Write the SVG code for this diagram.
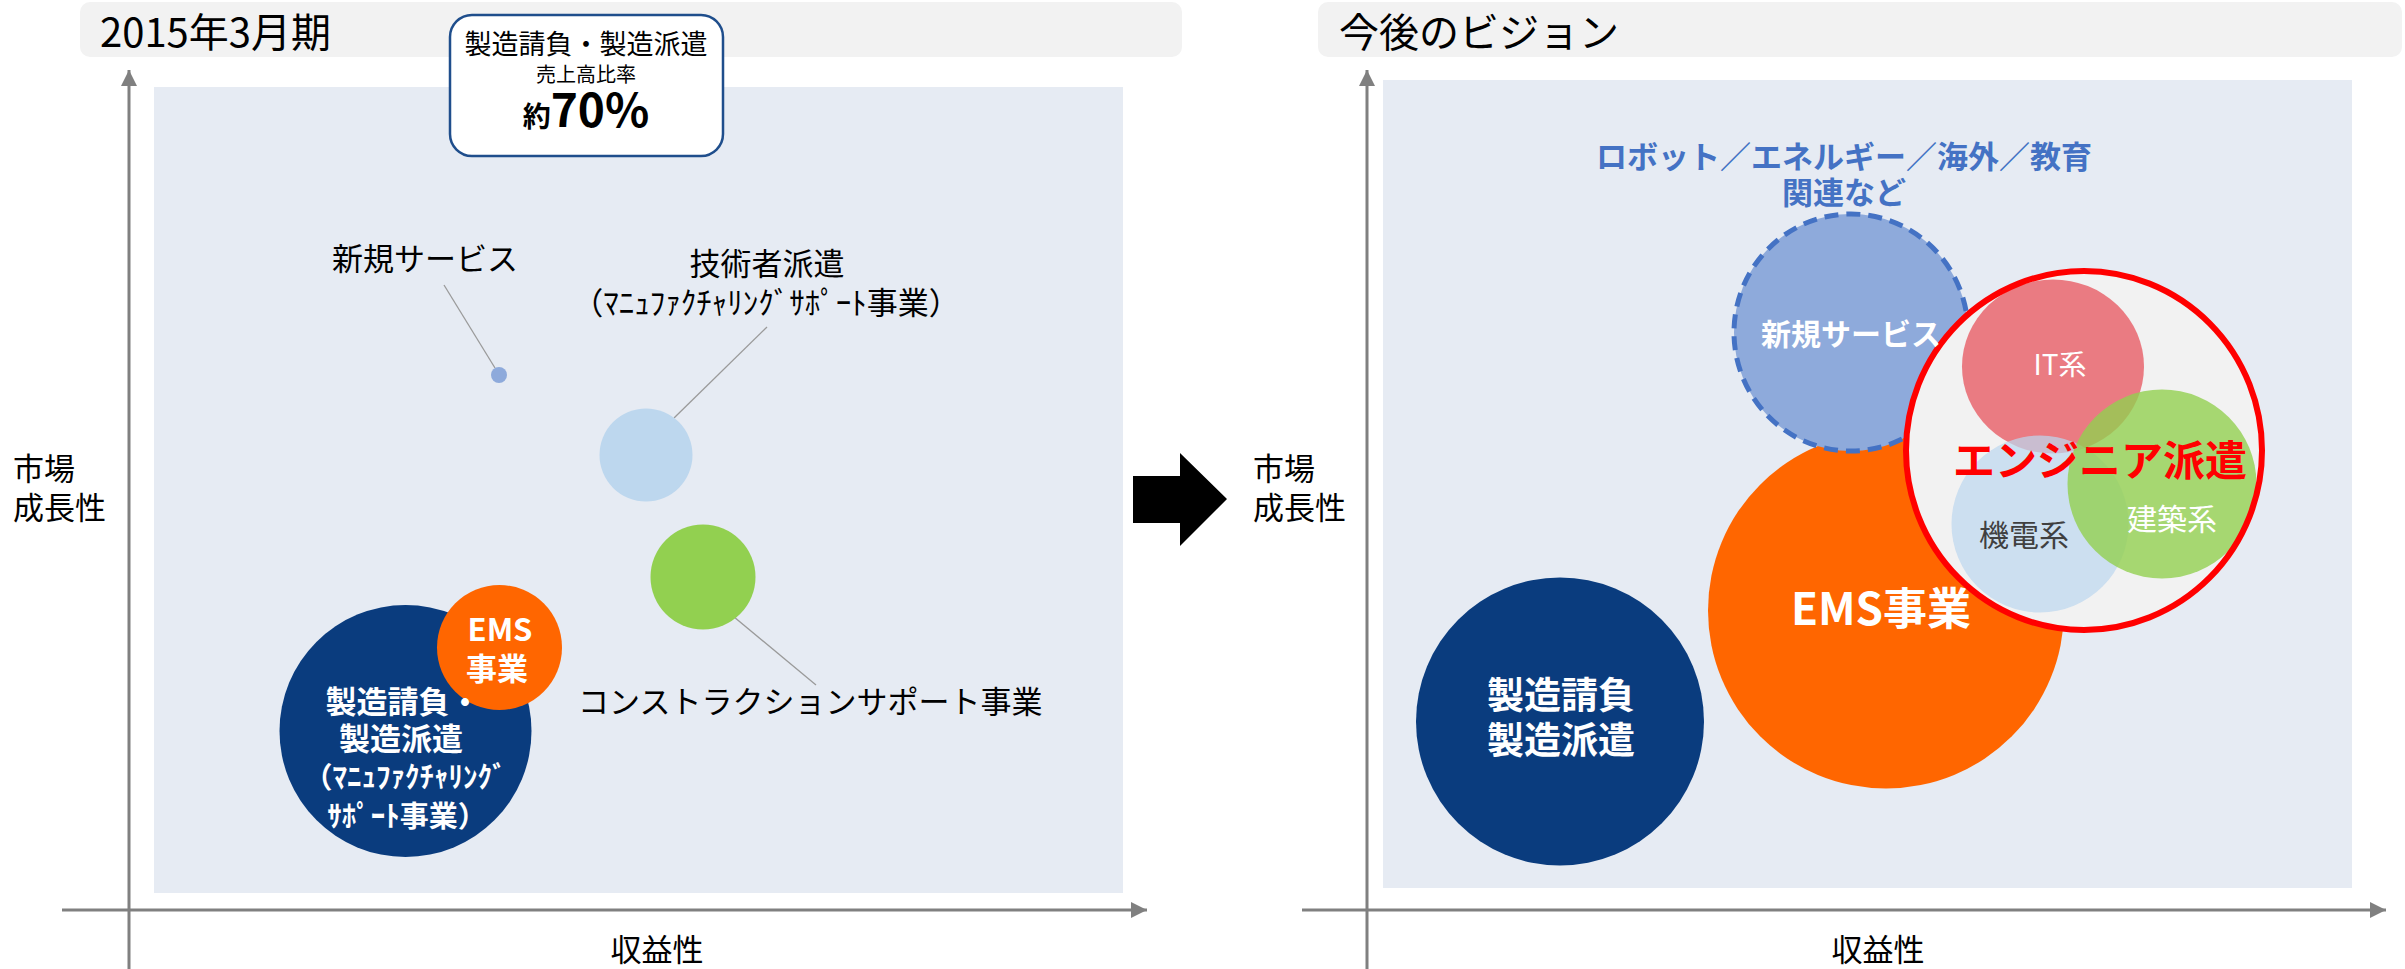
<svg xmlns="http://www.w3.org/2000/svg" width="2405" height="969" viewBox="0 0 2405 969">
<defs>
<marker id="ah" markerUnits="userSpaceOnUse" markerWidth="18" markerHeight="18" refX="16" refY="8" orient="auto">
<path d="M0,0 L16,8 L0,16 Z" fill="#808080"/>
</marker>
<style>
text{font-family:"Noto Sans CJK JP","Noto Sans",sans-serif}
.axis{stroke:#808080;stroke-width:3;fill:none}
.lead{stroke:#9a9a9a;stroke-width:1.3;fill:none}
.hdr{fill:#f2f2f2}
.panel{fill:#e6ebf3}
.lbl{font-size:31px;fill:#000}
.wb{fill:#fff;font-weight:bold}
.c{text-anchor:middle}
</style>
</defs>
<rect width="2405" height="969" fill="#fff"/>
<!-- headers -->
<rect class="hdr" x="80" y="2" width="1102" height="55" rx="10"/>
<text x="100" y="47" font-size="40" fill="#000">2015年3月期</text>
<rect class="hdr" x="1318" y="2" width="1084" height="55" rx="10"/>
<text x="1339" y="47" font-size="40" fill="#000">今後のビジョン</text>
<!-- panels -->
<rect class="panel" x="154" y="87" width="969" height="806"/>
<rect class="panel" x="1383" y="80" width="969" height="808"/>
<!-- connectors / axes -->
<g id="connectors">
<line class="axis" x1="129" y1="969" x2="129" y2="70" marker-end="url(#ah)"/>
<line class="axis" x1="62" y1="910" x2="1147" y2="910" marker-end="url(#ah)"/>
<line class="axis" x1="1367" y1="969" x2="1367" y2="70" marker-end="url(#ah)"/>
<line class="axis" x1="1302" y1="910" x2="2386" y2="910" marker-end="url(#ah)"/>
<line class="lead" x1="444" y1="285" x2="495" y2="368"/>
<line class="lead" x1="767" y1="327" x2="674" y2="418"/>
<line class="lead" x1="704" y1="592" x2="816" y2="685"/>
</g>
<!-- big arrow -->
<g id="transition-arrow">
<path d="M1133,476 H1180 V453 L1227,499 L1180,546 V523 H1133 Z" fill="#000"/>
</g>
<!-- axis labels -->
<g id="axis-labels">
<text class="lbl" x="13" y="480">市場</text>
<text class="lbl" x="13" y="519">成長性</text>
<text class="lbl c" x="657" y="961">収益性</text>
<text class="lbl" x="1253" y="480">市場</text>
<text class="lbl" x="1253" y="519">成長性</text>
<text class="lbl c" x="1878" y="961">収益性</text>
</g>
<!-- left chart -->
<g id="callout">
<rect x="450" y="15" width="273" height="141" rx="22" fill="#fff" stroke="#1f4e8c" stroke-width="2.5"/>
<text class="c" x="586" y="54" font-size="27" fill="#000">製造請負・製造派遣</text>
<text class="c" x="586" y="82" font-size="20" fill="#000">売上高比率</text>
<text class="c" x="586" y="127" fill="#000" font-weight="bold"><tspan font-size="28">約</tspan><tspan font-size="46">70%</tspan></text>
</g>
<g id="new-service-left">
<circle cx="499" cy="375" r="8" fill="#8eaadb"/>
<text class="lbl c" x="425" y="270">新規サービス</text>
</g>
<g id="engineer-left">
<circle cx="646" cy="455" r="46.5" fill="#bdd7ee"/>
<text class="lbl c" x="767" y="275">技術者派遣</text>
<text class="lbl c" x="766" y="314" font-size="29">（ﾏﾆｭﾌｧｸﾁｬﾘﾝｸﾞｻﾎﾟｰﾄ事業）</text>
</g>
<g id="construction-left">
<circle cx="703" cy="577" r="52.5" fill="#92d050"/>
<text class="lbl" x="578" y="713">コンストラクションサポート事業</text>
</g>
<g id="manufacturing-left">
<circle cx="405.5" cy="731" r="126" fill="#0a3c7e"/>
</g>
<g id="ems-left">
<circle cx="499.5" cy="647.5" r="62.5" fill="#ff6600"/>
<text class="wb c" x="500" y="641" font-size="31">EMS</text>
<text class="wb c" x="497" y="680" font-size="31">事業</text>
</g>
<g id="manufacturing-left-text">
<text class="wb c" x="403" y="713" font-size="31">製造請負・</text>
<text class="wb c" x="401" y="750" font-size="31">製造派遣</text>
<text class="wb c" x="405" y="788" font-size="29">（ﾏﾆｭﾌｧｸﾁｬﾘﾝｸﾞ</text>
<text class="wb c" x="407" y="827" font-size="29">ｻﾎﾟｰﾄ事業）</text>
</g>
<!-- right chart -->
<g id="future-label">
<text class="c" x="1844" y="168" font-size="31" font-weight="bold" fill="#4472c4">ロボット／エネルギー／海外／教育</text>
<text class="c" x="1844" y="204" font-size="31" font-weight="bold" fill="#4472c4">関連など</text>
</g>
<g id="manufacturing-right">
<circle cx="1560" cy="721.5" r="144" fill="#0a3c7e"/>
<text class="wb c" x="1561" y="709" font-size="37">製造請負</text>
<text class="wb c" x="1561" y="754" font-size="37">製造派遣</text>
</g>
<g id="ems-right">
<circle cx="1886" cy="610.5" r="178" fill="#ff6600"/>
<text class="wb c" x="1881" y="625" font-size="44">EMS事業</text>
</g>
<g id="new-service-right">
<ellipse cx="1851" cy="332.5" rx="117" ry="118.5" fill="#8eaadb" stroke="#4472c4" stroke-width="5" stroke-dasharray="14 8"/>
</g>
<g id="engineer-right">
<ellipse cx="2084" cy="450.5" rx="178" ry="179.5" fill="#f2f2f2"/>
<ellipse cx="2053" cy="366.5" rx="91" ry="87" fill="#ea7b82"/>
<circle cx="2040" cy="524" r="88.5" fill="#bdd7ee" fill-opacity="0.72"/>
<circle cx="2162" cy="484" r="94.5" fill="#92d050" fill-opacity="0.8"/>
<ellipse cx="2084" cy="450.5" rx="178" ry="179.5" fill="none" stroke="#ff0000" stroke-width="6"/>
<text class="c" x="2060" y="375" font-size="28" fill="#fff">IT系</text>
<text class="c" x="2024" y="546" font-size="30" fill="#404040">機電系</text>
<text class="c" x="2172" y="530" font-size="30" fill="#fff">建築系</text>
<text class="c" x="2100" y="476" font-size="42" font-weight="bold" fill="#ff0000">エンジニア派遣</text>
</g>
<g id="new-service-right-text">
<text class="wb c" x="1851" y="345" font-size="30">新規サービス</text>
</g>
</svg>
